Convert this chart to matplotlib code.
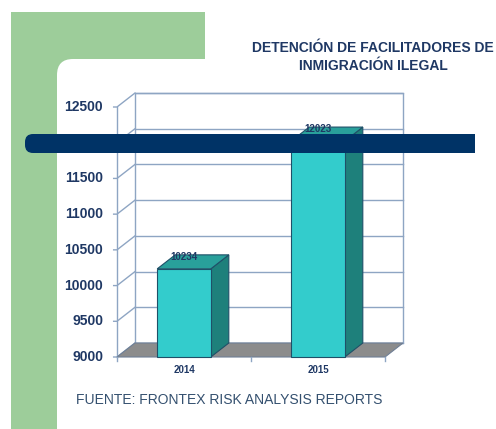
import matplotlib
matplotlib.use('Agg')
import matplotlib.pyplot as plt
from matplotlib.patches import Polygon, Rectangle, FancyBboxPatch

years = ['2014', '2015']
values = [10234, 12023]
yticks = [9000, 9500, 10000, 10500, 11000, 11500, 12000, 12500]
title_lines = ['DETENCIÓN DE FACILITADORES DE', 'INMIGRACIÓN ILEGAL']
source = 'FUENTE: FRONTEX RISK ANALYSIS REPORTS'

plt.rcParams['font.family'] = ['Liberation Sans', 'DejaVu Sans']

W, H = 496, 429
fig = plt.figure(figsize=(W / 100, H / 100), dpi=100)

navy = '#1f3864'
gridc = '#8ea5c3'
green = '#9dcd9a'

# slide background
bg = fig.add_axes([0, 0, 1, 1], zorder=0)
bg.set_xlim(0, W)
bg.set_ylim(H, 0)
bg.axis('off')
bg.add_patch(Rectangle((11, 12), 194, 430, color=green, lw=0))
bg.add_patch(FancyBboxPatch((57, 59), 500, 420, boxstyle='round,pad=0,rounding_size=16',
                            fc='white', ec='none'))

# chart (front plane)
x0, x1, yb, yt = 117, 385, 357, 107
ax = fig.add_axes([x0 / W, 1 - yb / H, (x1 - x0) / W, (yb - yt) / H], zorder=1)
ax.set_xlim(-0.5, 1.5)
ax.set_ylim(9000, 12500)
ax.axis('off')
ax.patch.set_alpha(0)

DX = 18 / 134          # depth offset in x units
DY = 14 * 3500 / 250   # depth offset in value units
lo, hi = 9000, 12500
xl, xr = -0.5, 1.5

# back wall
ax.add_patch(Rectangle((xl + DX, lo + DY), xr - xl, hi - lo, fc='white', ec=gridc,
                       lw=1, clip_on=False, zorder=1))
for y in yticks:
    ax.plot([xl + DX, xr + DX], [y + DY, y + DY], color=gridc, lw=1, clip_on=False, zorder=2)
    ax.plot([xl - 0.025, xl, xl + DX], [y, y, y + DY], color=gridc, lw=1, clip_on=False, zorder=2)
    ax.annotate(f'{y}', (xl, y), xytext=(-10, 0), textcoords='offset points',
                ha='right', va='center', fontsize=10, fontweight='bold', color=navy,
                annotation_clip=False)
ax.plot([xl, xl], [lo, hi], color=gridc, lw=1, clip_on=False, zorder=2)

# floor
ax.add_patch(Polygon([(xl, lo), (xr, lo), (xr + DX, lo + DY), (xl + DX, lo + DY)],
                     closed=True, fc='#8c8c8c', ec='#6f7f95', lw=0.8, clip_on=False, zorder=3))
for xt in [xl, 0.5, xr]:
    ax.plot([xt, xt], [lo, lo - 60], color=gridc, lw=1, clip_on=False, zorder=3)

# bars
w = 0.4
xs = list(range(len(values)))
ax.bar(xs, [v - lo for v in values], bottom=lo, width=w, color='#33cccc',
       edgecolor='#1f5068', lw=0.8, zorder=5, clip_on=False)
for x, v, lab in zip(xs, values, years):
    r = x + w / 2
    l = x - w / 2
    ax.add_patch(Polygon([(r, lo), (r + DX, lo + DY), (r + DX, v + DY), (r, v)], closed=True,
                         fc='#1e807b', ec='#1f5068', lw=0.8, clip_on=False, zorder=4))
    ax.add_patch(Polygon([(l, v), (r, v), (r + DX, v + DY), (l + DX, v + DY)], closed=True,
                         fc='#29a09b', ec='#1f5068', lw=0.8, clip_on=False, zorder=4))
    ax.annotate(f'{v}', (x, v), xytext=(0, 8.5), textcoords='offset points',
                ha='center', va='center', fontsize=7, fontweight='bold', color=navy,
                annotation_clip=False, zorder=6)
    ax.annotate(lab, (x, lo), xytext=(0, -9.5), textcoords='offset points',
                ha='center', va='center', fontsize=7, fontweight='bold', color=navy,
                annotation_clip=False)

# overlay: band, title, source
top = fig.add_axes([0, 0, 1, 1], zorder=5)
top.set_xlim(0, W)
top.set_ylim(H, 0)
top.axis('off')
top.patch.set_alpha(0)
top.add_patch(FancyBboxPatch((25, 134), 40, 19, boxstyle='round,pad=0,rounding_size=8',
                             fc='#003366', ec='none'))
top.add_patch(Rectangle((40, 134), 435, 19, fc='#003366', ec='none'))
top.text(373, 48, title_lines[0], ha='center', va='center', fontsize=10,
         fontweight='bold', color=navy)
top.text(373, 66, title_lines[1], ha='center', va='center', fontsize=10,
         fontweight='bold', color=navy)
top.text(76, 400, source, ha='left', va='center', fontsize=10, color='#34506f')

fig.savefig('out.png', dpi=100)
